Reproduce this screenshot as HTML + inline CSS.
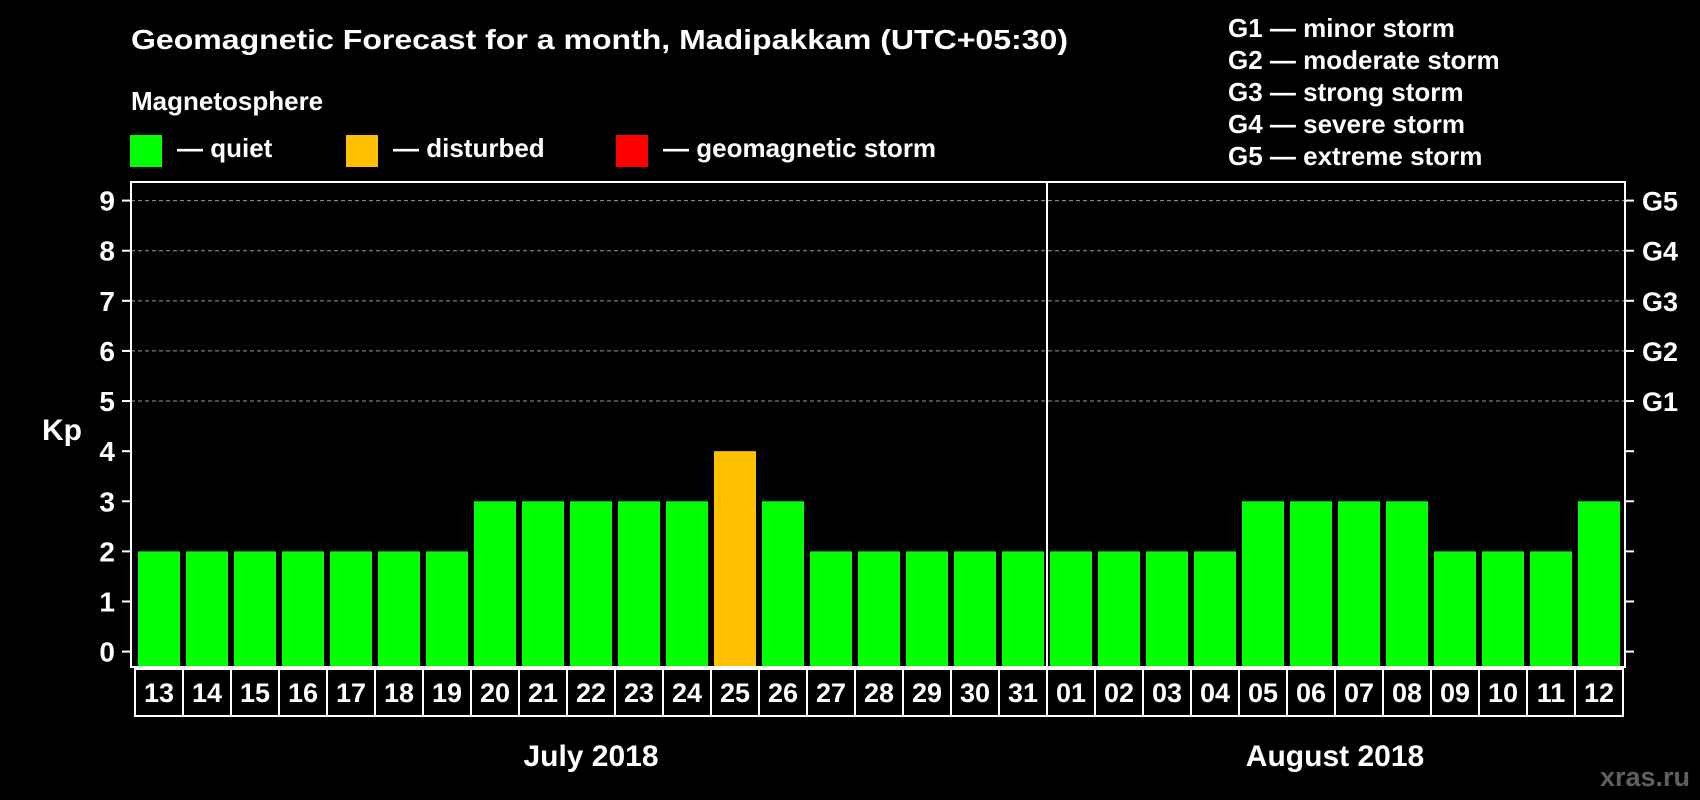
<!DOCTYPE html>
<html><head><meta charset="utf-8"><style>
html,body{margin:0;padding:0;background:#000;width:1700px;height:800px;overflow:hidden}
svg{display:block;font-family:"Liberation Sans",Arial,sans-serif;font-weight:bold}
</style></head><body>
<svg id="chart" width="1700" height="800" viewBox="0 0 1700 800">
<rect x="0" y="0" width="1700" height="800" fill="#000"/>
<text x="131" y="49" font-size="28" fill="#fff" textLength="937" lengthAdjust="spacingAndGlyphs">Geomagnetic Forecast for a month, Madipakkam (UTC+05:30)</text>
<text x="131" y="110" font-size="26" fill="#fff">Magnetosphere</text>
<g>
<rect x="130" y="135" width="32" height="32" fill="#00ff00"/>
<text x="177" y="157" font-size="26" fill="#fff">— quiet</text></g>
<g>
<rect x="346" y="135" width="32" height="32" fill="#ffc000"/>
<text x="393" y="157" font-size="26" fill="#fff">— disturbed</text></g>
<g>
<rect x="616" y="135" width="32" height="32" fill="#ff0000"/>
<text x="663" y="157" font-size="26" fill="#fff">— geomagnetic storm</text></g>
<g font-size="26" fill="#fff">
<text x="1228" y="37">G1 — minor storm</text>
<text x="1228" y="69">G2 — moderate storm</text>
<text x="1228" y="101">G3 — strong storm</text>
<text x="1228" y="133">G4 — severe storm</text>
<text x="1228" y="165">G5 — extreme storm</text>
</g>
<text x="42" y="440" font-size="30" fill="#fff">Kp</text>
<g id="grid"></g><g id="bars"></g><g id="axes"></g>
<text x="591" y="766" font-size="30" fill="#fff" text-anchor="middle">July 2018</text>
<text x="1335" y="766" font-size="30" fill="#fff" text-anchor="middle">August 2018</text>
<text x="1690" y="786" font-size="27" fill="#606060" text-anchor="end">xras.ru</text>
</svg>
<script>
const days = ["13","14","15","16","17","18","19","20","21","22","23","24","25","26","27","28","29","30","31","01","02","03","04","05","06","07","08","09","10","11","12"];
const kpValues = [2,2,2,2,2,2,2,3,3,3,3,3,4,3,2,2,2,2,2,2,2,2,2,3,3,3,3,2,2,2,3];
const yTicks = [0,1,2,3,4,5,6,7,8,9];
const gLabels = ["","","","","","G1","G2","G3","G4","G5"];
const monthBreakIndex = 19;

const NS = "http://www.w3.org/2000/svg";
const L = 131, R = 1625, T = 182, B = 667, colL = 135, colW = 48;
const y = v => 651.6 - v * (451 / 9);
const x = i => colL + i * colW;
function mk(tag, attrs, parent) { const e = document.createElementNS(NS, tag); for (const k in attrs) e.setAttribute(k, attrs[k]); parent.appendChild(e); return e; }
const grid = document.getElementById('grid'), bars = document.getElementById('bars'), axes = document.getElementById('axes');

yTicks.forEach((t, i) => {
  if (t >= 5) {
    const g = mk('line', {x1: L, x2: R, y1: y(t), y2: y(t), stroke: '#999', 'stroke-width': 1, 'stroke-dasharray': '4,3'}, grid);
    
    
  }
  const lt = mk('line', {x1: L - 9, x2: L, y1: y(t), y2: y(t), stroke: '#fff', 'stroke-width': 2}, axes);
  
  
  const rt = mk('line', {x1: R, x2: R + 9, y1: y(t), y2: y(t), stroke: '#fff', 'stroke-width': 2}, axes);
  
  
  const tl = mk('text', {x: 115, y: y(t) + 10, 'font-size': 28, fill: '#fff', 'text-anchor': 'end'}, axes);
  tl.textContent = t;
  
  
  if (gLabels[i]) {
    const gl = mk('text', {x: 1642, y: y(t) + 10, 'font-size': 27, fill: '#fff'}, axes);
    gl.textContent = gLabels[i];
    
    
  }
});

kpValues.forEach((v, i) => {
  const col = v >= 5 ? '#ff0000' : (v >= 4 ? '#ffc000' : '#00ff00');
  const b = mk('rect', {x: x(i) + 3, y: y(v), width: 42, height: B - y(v), fill: col}, bars);
  
  
  const d = mk('text', {x: x(i) + colW / 2, y: 702, 'font-size': 27, fill: '#fff', 'text-anchor': 'middle'}, axes);
  d.textContent = days[i];
  
  
  if (i > 0) {
    const s = mk('line', {x1: x(i), x2: x(i), y1: 669, y2: 716, stroke: '#fff', 'stroke-width': 2}, axes);
    
    
  }
});

const frame = mk('rect', {x: L, y: T, width: R - L, height: B - T, fill: 'none', stroke: '#fff', 'stroke-width': 2}, axes);


const dbox = mk('rect', {x: colL, y: 669, width: colW * days.length, height: 47, fill: 'none', stroke: '#fff', 'stroke-width': 2}, axes);


const sep = mk('line', {x1: x(monthBreakIndex), x2: x(monthBreakIndex), y1: T, y2: B, stroke: '#fff', 'stroke-width': 2}, axes);


</script>
</body></html>
